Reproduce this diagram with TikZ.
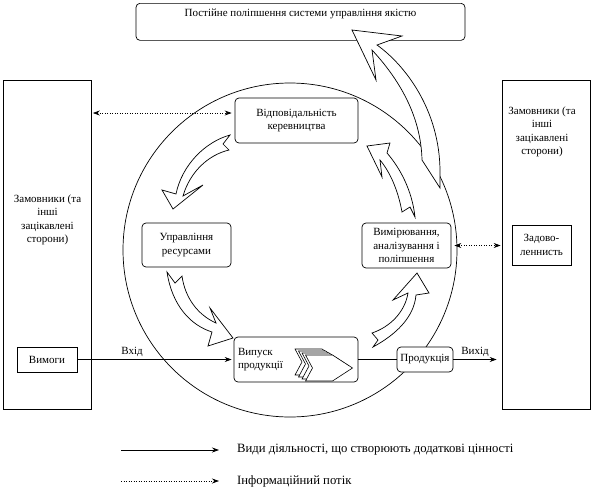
\documentclass[tikz,border=0pt]{standalone}
\usepackage{fontspec}
\setmainfont{Liberation Serif}
\usetikzlibrary{arrows.meta}
\begin{document}
\begin{tikzpicture}[x=1pt,y=-1pt,
  every node/.style={font=\fontsize{11}{13.5}\selectfont},
  ln/.style={line width=0.7pt},
  plainbox/.style={draw, line width=0.7pt, fill=white, inner sep=0pt, align=center},
  roundbox/.style={plainbox, rounded corners=4pt},
  blockarrow/.style={draw, fill=white, line width=0.7pt, line join=miter},
  flow/.style={line width=0.7pt, -{Stealth[length=7pt,width=5pt]}},
  info/.style={line width=0.7pt, dash pattern=on 1pt off 1.5pt, -{Stealth[length=7pt,width=5pt]}},
  infotwo/.style={line width=0.7pt, dash pattern=on 1pt off 1.5pt, {Stealth[length=7pt,width=5pt]}-{Stealth[length=7pt,width=5pt]}},
  txt/.style={align=center, inner sep=0pt},
  legtxt/.style={anchor=west, inner sep=0pt, font=\fontsize{12.7}{15}\selectfont},
  chev/.style={draw, fill=white, line width=0.6pt}
]
\useasboundingbox (0,0) rectangle (592,493);

% cycle
\draw[ln] (290,250) circle[radius=167];

% boxes
\node[roundbox, minimum width=329pt, inner sep=3pt, text height=10.5pt, text depth=20.5pt, anchor=north] (improve) at (300.5,3) {Постійне поліпшення системи управління якістю};

\node[plainbox, minimum width=88pt, minimum height=329pt] (custL) at (47.5,244.5) {};
\node[txt] (custLtxt) at (47.5,220) {Замовники (та\\інші\\зацікавлені\\сторони)};
\node[plainbox, minimum width=60pt, minimum height=25pt] (req) at (47,359.5) {Вимоги};

\node[plainbox, minimum width=88pt, minimum height=329pt] (custR) at (546,244.5) {};
\node[txt] (custRtxt) at (542,132) {Замовники (та\\інші\\зацікавлені\\сторони)};
\node[plainbox, minimum width=59pt, minimum height=40pt] (satisf) at (541.5,245) {Задово-\\леннисть};

\node[roundbox, minimum width=123pt, minimum height=45pt] (resp) at (296.5,120.5) {Відповідальність\\керевництва};
\node[roundbox, minimum width=89pt, minimum height=44pt] (res) at (186.5,245) {Управління\\ресурсами};
\node[roundbox, minimum width=89pt, minimum height=45pt] (meas) at (406.5,245.5) {Вимірювання,\\аналізування і\\поліпшення};
\node[roundbox, minimum width=124pt, minimum height=45pt, text width=116pt, inner xsep=4pt, align=left] (prod) at (296,359.5) {Випуск\\продукції};
\node[roundbox, minimum width=56pt, minimum height=25pt] (out) at (425,359.5) {Продукція};

% chevrons inside production box
\foreach \cx/\cy in {295/349, 298.5/351, 302/353, 305.5/355}
  \draw[chev] (\cx,\cy) -- ++(27,0) -- ++(20,13) -- ++(-20,13) -- ++(-27,0) -- ++(7,-13) -- cycle;

% block arrows
\draw[blockarrow] (230,135) .. controls (205,142) and (182,165) .. (176,194) -- (162,190) -- (173,209) -- (203,185) -- (183,196) .. controls (190,172) and (208,155) .. (229,150) -- (223,144) -- cycle;
\draw[blockarrow] (167,272) .. controls (172,305) and (190,325) .. (212,332) -- (208,346) -- (233,338) -- (210,308) -- (216,323) .. controls (198,315) and (185,298) .. (182,276) -- (175,283) -- cycle;
\draw[blockarrow] (373,347) .. controls (395,335) and (414,318) .. (416,295) -- (429,293) -- (417,273) -- (393,300) -- (408,293) .. controls (405,312) and (390,327) .. (372,333) -- (378,340) -- cycle;
\draw[blockarrow] (402,212) .. controls (398,190) and (390,172) .. (380,160) -- (382,177) -- (367,146) -- (390,143) -- (387,153) .. controls (400,168) and (412,190) .. (415,217) -- (410,207) -- cycle;
\draw[blockarrow] (352,30) -- (402,36) -- (377,45) .. controls (405,65) and (440,110) .. (440,172) -- (440,188) -- (422,160) .. controls (421,115) and (398,78) .. (372,50) -- (376,80) -- cycle;

% flows
\draw[flow, shorten >=2pt] (req.east) -- node[pos=0.35, above, inner sep=3pt] (inlbl) {Вхід} (prod.west);
\draw[ln] (prod.east) -- (out.west);
\draw[flow, shorten >=5pt] (out.east) -- node[pos=0.45, above, inner sep=3pt] (outlbl) {Вихід} (custR.west |- out.east);

% information flows
\coordinate (respin) at ([yshift=7.5pt]resp.west);
\draw[infotwo, shorten <=1pt, shorten >=3pt] (custL.east |- respin) -- (respin);
\draw[infotwo, shorten <=3pt, shorten >=1pt] (meas.east) -- (custR.west |- meas.east);

% legend
\coordinate (la) at (121,450);
\coordinate (lb) at (219,450);
\coordinate (lc) at (121,481);
\coordinate (ld) at (219,481);
\draw[flow] (la) -- (lb);
\draw[info] (lc) -- (ld);
\node[legtxt] (leg1) at (237,450) {Види діяльності, що створюють додаткові цінності};
\node[legtxt] (leg2) at (237,481) {Інформаційний потік};
\end{tikzpicture}
\end{document}
